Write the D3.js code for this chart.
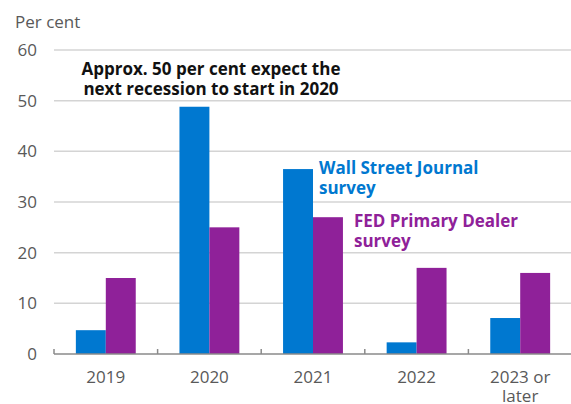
<!DOCTYPE html>
<html>
<head>
<meta charset="utf-8">
<script src="https://cdn.jsdelivr.net/npm/d3@7"></script>
<style>
  body { margin: 0; background: #fff; }
  svg { font-family: 'Open Sans', 'Noto Sans', sans-serif; }
  .tick text, text.tick { fill: #595959; font-size: 17px; }
</style>
</head>
<body>
<div id="chart"></div>
<script>
const categories = ['2019', '2020', '2021', '2022', '2023 or later'];
const series = ['Wall Street Journal survey', 'FED Primary Dealer survey'];
const wsj = [4.7, 48.8, 36.5, 2.3, 7.1];
const fed = [15, 25, 27, 17, 16];
const yTicks = [0, 10, 20, 30, 40, 50, 60];

const width = 571;
const height = 404;
const margin = { top: 50, right: 0, bottom: 50, left: 54 };
const colors = ['#0078d0', '#8f2199'];

const svg = d3.select('#chart')
  .append('svg')
  .attr('width', width)
  .attr('height', height);

const x0 = d3.scaleBand()
  .domain(categories)
  .range([margin.left, width - margin.right + 1])
  .padding(0);

const x1 = d3.scaleBand()
  .domain(series)
  .range([0, x0.bandwidth()])
  .paddingOuter(0.73)
  .paddingInner(0);

const y = d3.scaleLinear()
  .domain([0, 60])
  .range([height - margin.bottom, margin.top]);

// gridlines
svg.append('g')
  .selectAll('line')
  .data(yTicks.filter(d => d > 0))
  .enter()
  .append('line')
  .attr('x1', margin.left)
  .attr('x2', width)
  .attr('y1', d => y(d))
  .attr('y2', d => y(d))
  .attr('stroke', '#d4d4d4')
  .attr('stroke-width', 1.5);

// y labels
svg.append('g')
  .selectAll('text')
  .data(yTicks)
  .enter()
  .append('text')
  .attr('class', 'tick')
  .attr('x', 37)
  .attr('y', d => y(d) + 6)
  .attr('text-anchor', 'end')
  .text(d => d);

svg.append('text')
  .attr('class', 'tick')
  .attr('x', 15)
  .attr('y', 28)
  .text('Per cent');

// bars
const data = categories.map((c, i) => ({ cat: c, values: [wsj[i], fed[i]] }));
const groups = svg.append('g')
  .selectAll('g')
  .data(data)
  .enter()
  .append('g')
  .attr('transform', d => `translate(${x0(d.cat)},0)`);

groups.selectAll('rect')
  .data(d => d.values.map((v, j) => ({ key: series[j], value: v, j })))
  .enter()
  .append('rect')
  .attr('x', d => x1(d.key))
  .attr('y', d => y(d.value))
  .attr('width', x1.bandwidth())
  .attr('height', d => y(0) - y(d.value))
  .attr('fill', d => colors[d.j]);

// x axis
const xAxis = svg.append('g')
  .attr('transform', `translate(0,${y(0)})`);
xAxis.append('line')
  .attr('x1', margin.left)
  .attr('x2', width)
  .attr('stroke', '#8a8a8a')
  .attr('stroke-width', 1.5);
xAxis.selectAll('.tk')
  .data(categories.concat(['end']))
  .enter()
  .append('line')
  .attr('class', 'tk')
  .attr('x1', (d, i) => margin.left + i * x0.step())
  .attr('x2', (d, i) => margin.left + i * x0.step())
  .attr('y1', 0)
  .attr('y2', -5)
  .attr('stroke', '#8a8a8a')
  .attr('stroke-width', 1.5);

const xLabels = xAxis.selectAll('text')
  .data(categories)
  .enter()
  .append('text')
  .attr('class', 'tick')
  .attr('text-anchor', 'middle')
  .attr('x', d => x0(d) + x0.bandwidth() / 2)
  .attr('y', 29);
xLabels.each(function (d) {
  const parts = d === '2023 or later' ? ['2023 or', 'later'] : [d];
  const t = d3.select(this);
  parts.forEach((p, i) => {
    t.append('tspan')
      .attr('x', x0(d) + x0.bandwidth() / 2)
      .attr('dy', i === 0 ? 0 : 19)
      .text(p);
  });
});

// annotations
function multiline(xp, yp, lines, color, anchor) {
  const t = svg.append('text')
    .attr('x', xp)
    .attr('y', yp)
    .attr('fill', color)
    .attr('text-anchor', anchor)
    .style('font-size', '17px')
    .style('font-weight', 'bold');
  lines.forEach((l, i) => {
    t.append('tspan')
      .attr('x', xp)
      .attr('dy', i === 0 ? 0 : 20)
      .text(l);
  });
}

multiline(211, 75, ['Approx. 50 per cent expect the', 'next recession to start in 2020'], '#111', 'middle');
multiline(319, 174, ['Wall Street Journal', 'survey'], colors[0], 'start');
multiline(354, 227, ['FED Primary Dealer', 'survey'], colors[1], 'start');
</script>
</body>
</html>
